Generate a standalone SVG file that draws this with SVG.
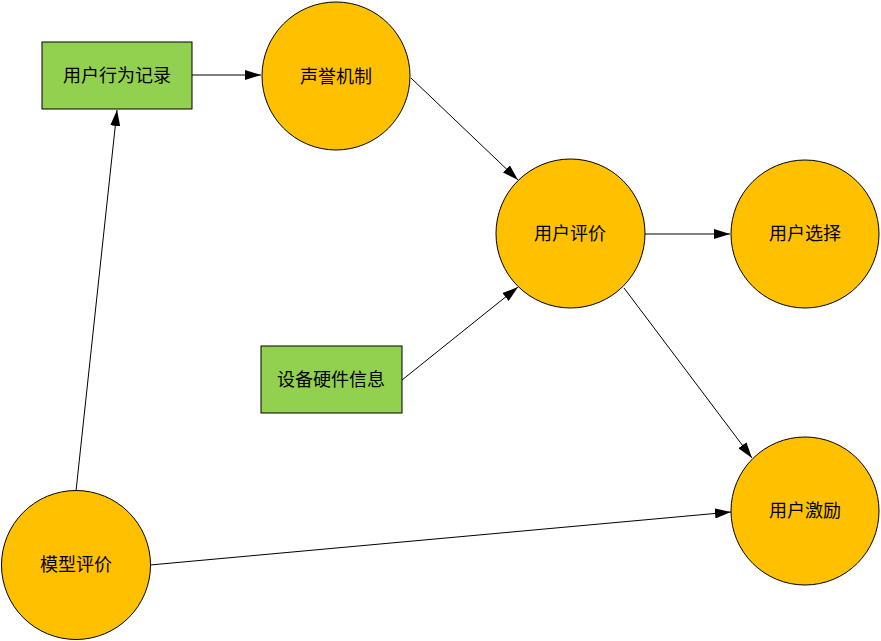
<svg xmlns="http://www.w3.org/2000/svg" width="881" height="641" viewBox="0 0 881 641">
<style>
.c{fill:#FFC000;stroke:#000;stroke-width:1}
.b{fill:#92D050;stroke:#000;stroke-width:1}
.t{font-family:"Noto Sans CJK SC","Liberation Sans",sans-serif;font-size:18px;fill:#000;text-anchor:middle;dominant-baseline:central}
.e{stroke:#000;stroke-width:1;fill:none;marker-end:url(#a)}
</style>
<defs>
<marker id="a" viewBox="0 0 16 10" refX="16" refY="5" markerWidth="16" markerHeight="10" markerUnits="userSpaceOnUse" orient="auto">
<path d="M0,0 L16,5 L0,10 Z" fill="#000"/>
</marker>
</defs>
<rect width="881" height="641" fill="#fff"/>
<g id="connectors">
<line class="e" x1="192" y1="75" x2="261" y2="75"/>
<line class="e" x1="411" y1="78" x2="518" y2="180"/>
<line class="e" x1="402" y1="380" x2="518" y2="287"/>
<line class="e" x1="645" y1="234" x2="730" y2="234"/>
<line class="e" x1="624" y1="288" x2="752" y2="458"/>
<line class="e" x1="150" y1="565" x2="731" y2="512"/>
<line class="e" x1="76" y1="491" x2="117" y2="110"/>
</g>
<g id="n1"><rect class="b" x="42" y="42" width="150" height="67"/><text class="t" x="117" y="73.5">用户行为记录</text></g>
<g id="n2"><circle class="c" cx="336" cy="76" r="74"/><text class="t" x="336" y="74.5">声誉机制</text></g>
<g id="n3"><circle class="c" cx="570.5" cy="233.5" r="74.5"/><text class="t" x="570" y="231.5">用户评价</text></g>
<g id="n4"><circle class="c" cx="805" cy="234" r="74"/><text class="t" x="805" y="231.5">用户选择</text></g>
<g id="n5"><rect class="b" x="261" y="346" width="141" height="67"/><text class="t" x="331" y="377.5">设备硬件信息</text></g>
<g id="n6"><circle class="c" cx="805" cy="511" r="74"/><text class="t" x="805" y="508.5">用户激励</text></g>
<g id="n7"><circle class="c" cx="76" cy="565" r="74.5"/><text class="t" x="76" y="562.5">模型评价</text></g>
</svg>
